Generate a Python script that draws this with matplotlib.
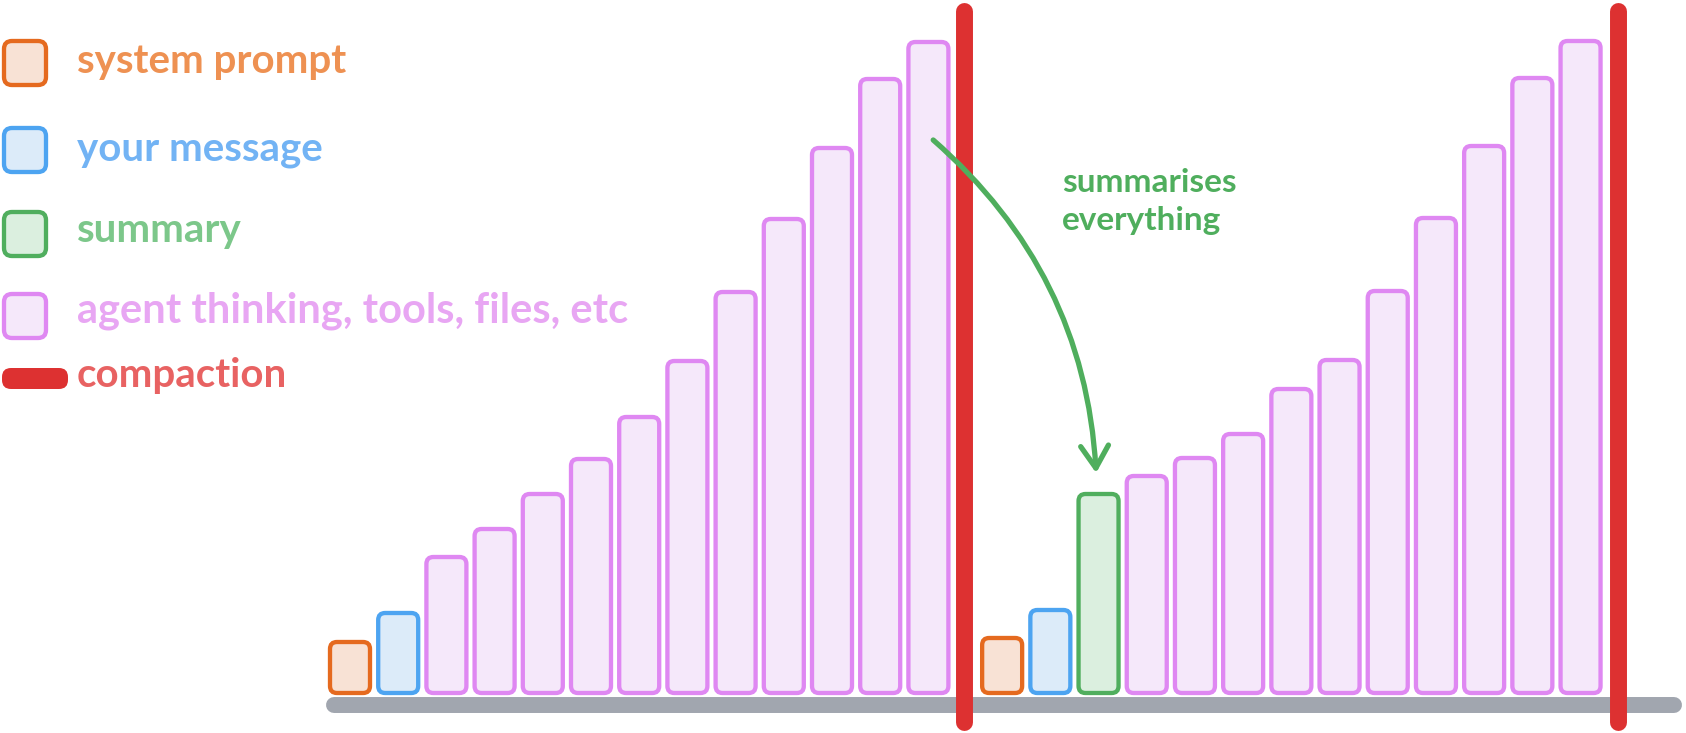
import numpy as np
import matplotlib
matplotlib.use('Agg')
import matplotlib.pyplot as plt
from matplotlib.patches import FancyBboxPatch, FancyArrowPatch

###################################Data#########################################

# context size per turn (px-ish units), before and after compaction
first_kinds = ['system', 'message'] + ['agent'] * 11
first_sizes = [55, 84, 140, 168, 203, 238, 280, 336, 405, 478, 549, 618, 655]

second_kinds = ['system', 'message', 'summary'] + ['agent'] * 10
second_sizes = [59, 87, 203, 221, 239, 263, 308, 337, 406, 479, 551, 619, 656]

legend_keys = ['system', 'message', 'summary', 'agent', 'compaction']
legend_labels = ['system prompt', 'your message', 'summary',
                 'agent thinking, tools, files, etc', 'compaction']
note_lines = ['summarises', 'everything']

###################################Styles#######################################

edge = {'system': '#e56a1f', 'message': '#4da4f1', 'summary': '#50ae5e',
        'agent': '#df88f2', 'compaction': '#dd3131'}
fill = {'system': '#f8e2d5', 'message': '#dcebf9', 'summary': '#dbefdf',
        'agent': '#f5e8fa', 'compaction': '#dd3131'}
text_col = {'system': '#ee9152', 'message': '#72b3f4', 'summary': '#7cc78a',
            'agent': '#e8a6f3', 'compaction': '#e86262'}
GRAY = '#a1a6af'
NOTE = '#4fae5d'
FONT = ['Lato', 'DejaVu Sans']

W, H = 1686, 733
PX = 48.2          # pixels per bar slot
X0 = 350           # pixel of slot 0
BASE = 695         # pixel row of bar bottoms

####################################Plotting####################################

fig = plt.figure(figsize=(W / 100, H / 100), dpi=100)
ax = fig.add_axes([0, 0, 1, 1])
ax.set_xlim(-X0 / PX, (W - X0) / PX)
ax.set_ylim(BASE - H, BASE)
ax.axis('off')

first_x = np.arange(len(first_sizes), dtype=float)
cut1 = first_x[-1] + 0.74
second_x = first_x[-1] + 1.53 + np.arange(len(second_sizes))
cut2 = second_x[-1] + 0.78

bw = 40 / PX
lw = 3.1


def draw_bar(x, h, kind):
    p = FancyBboxPatch((x - bw / 2, 2), bw, h - 4,
                       boxstyle='round,pad=0,rounding_size=%f' % (7 / PX),
                       mutation_aspect=PX, facecolor=fill[kind],
                       edgecolor=edge[kind], linewidth=lw, zorder=3)
    ax.add_patch(p)


for x, h, k in zip(first_x, first_sizes, first_kinds):
    draw_bar(x, h, k)
for x, h, k in zip(second_x, second_sizes, second_kinds):
    draw_bar(x, h, k)

# ground line
ax.plot([first_x[0] - 0.33, cut2 + 1.15], [-10, -10], color=GRAY, lw=11.5,
        solid_capstyle='round', zorder=1)

# compaction lines
for cx in (cut1, cut2):
    ax.plot([cx, cx], [BASE - 11, BASE - 722], color=edge['compaction'],
            lw=12.2, solid_capstyle='round', zorder=4)

# summary arrow
start = (first_x[-1] + 0.1, first_sizes[-1] - 100)
end = (second_x[2] - 0.05, second_sizes[2] + 19)
arr = FancyArrowPatch(start, end, connectionstyle='arc3,rad=-0.21',
                      arrowstyle='->,head_length=0.8,head_width=0.5',
                      mutation_scale=20, color=NOTE, lw=3.8,
                      capstyle='round', joinstyle='round',
                      shrinkA=0, shrinkB=0, zorder=5)
ax.add_patch(arr)

for i, line in enumerate(note_lines):
    ax.text(second_x[1] + 0.24, first_sizes[-1] - 152 - 38 * i, line,
            color=NOTE, fontsize=24, fontweight='bold', family=FONT,
            va='baseline', ha='left', zorder=5)

# legend (pixel overlay)
lax = fig.add_axes([0, 0, 1, 1])
lax.set_xlim(0, W)
lax.set_ylim(H, 0)
lax.axis('off')

sq_centers = [63, 150, 234, 316]
baselines = [73, 160, 242, 323, 387]
for k, cy in zip(legend_keys[:4], sq_centers):
    lax.add_patch(FancyBboxPatch((4, cy - 22), 42, 44,
                                 boxstyle='round,pad=0,rounding_size=8',
                                 facecolor=fill[k], edgecolor=edge[k],
                                 linewidth=lw))
lax.add_patch(FancyBboxPatch((2, 368), 66, 21,
                             boxstyle='round,pad=0,rounding_size=9',
                             facecolor=fill['compaction'], edgecolor='none'))

for k, lab, by in zip(legend_keys, legend_labels, baselines):
    size = 30 if k == 'agent' else 29
    lax.text(77, by, lab, color=text_col[k], fontsize=size, fontweight='bold',
             family=FONT, va='baseline', ha='left')

fig.savefig('out.png', dpi=100, facecolor='white')
